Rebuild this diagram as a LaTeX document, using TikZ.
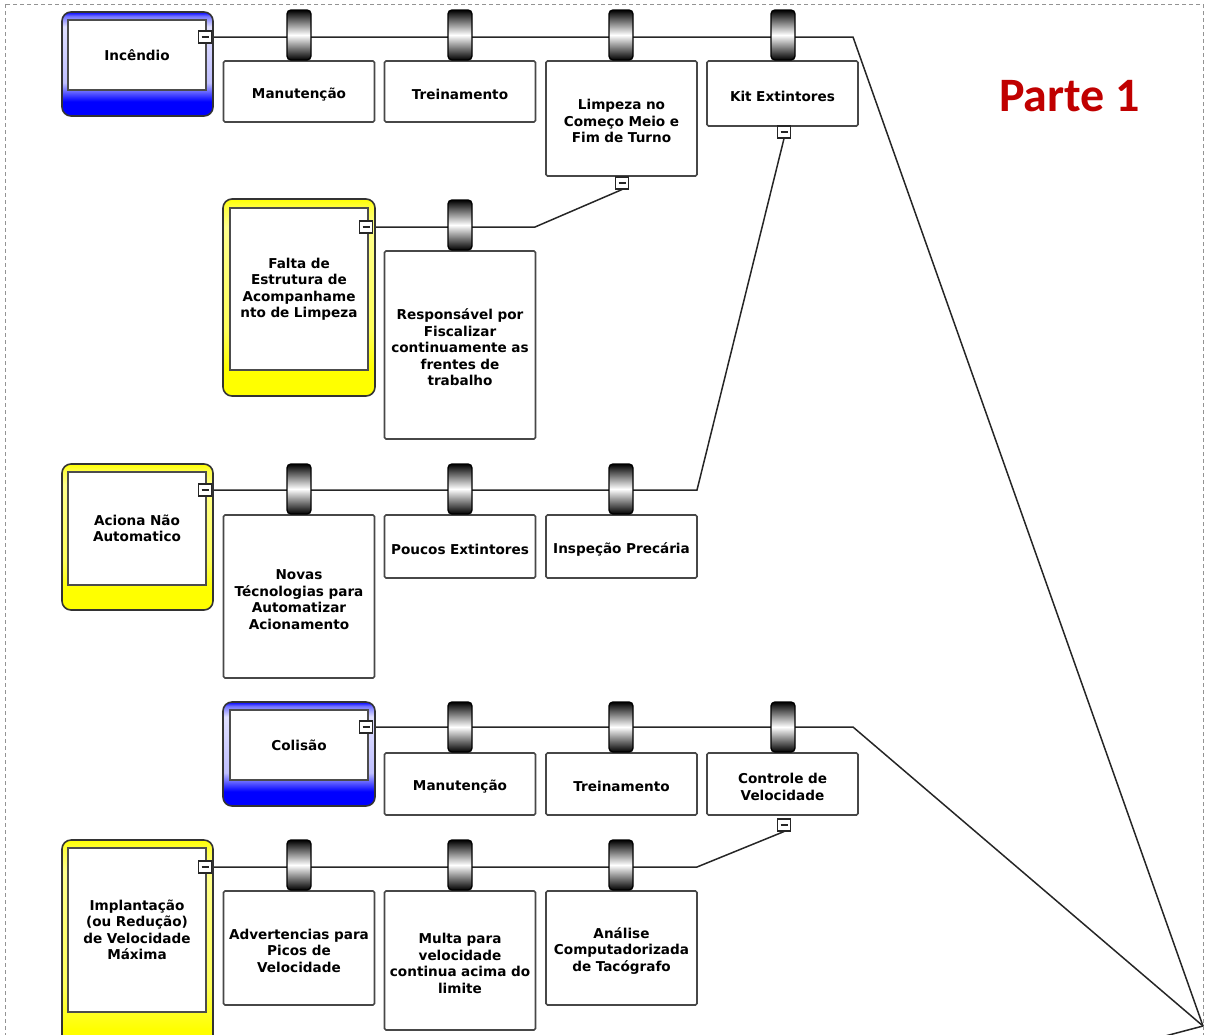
\documentclass[tikz,border=0pt]{standalone}
\usepackage{fontspec}
\setmainfont{DejaVu Sans}
\newfontfamily\titlefont{Carlito}
\definecolor{tblue}{RGB}{0,0,255}
\definecolor{tyellow}{RGB}{255,255,0}
\definecolor{partred}{RGB}{192,0,0}
\pgfdeclarelayer{background}
\pgfsetlayers{background,main}
% frame shadings of the threat boxes (bottom = 0bp, path spans 25bp..75bp)
\pgfdeclareverticalshading{blueframe}{100bp}{color(0bp)=(tblue); color(25bp)=(tblue); color(32bp)=(tblue); color(41bp)=(tblue!25!white); color(68bp)=(tblue!12!white); color(73bp)=(tblue!55!white); color(75bp)=(tblue); color(100bp)=(tblue)}
\pgfdeclareverticalshading{yellowframe}{100bp}{color(0bp)=(tyellow); color(25bp)=(tyellow); color(32bp)=(tyellow); color(42bp)=(tyellow!65!white); color(68bp)=(tyellow!45!white); color(73bp)=(tyellow!75!white); color(75bp)=(tyellow); color(100bp)=(tyellow)}
\begin{document}
\begin{tikzpicture}[x=1pt,y=-1pt,
  boxfont/.style={font=\bfseries\fontsize{13.6}{16.5}\selectfont},
  frame/.style={rounded corners=9pt, draw=black!80, line width=1.6pt, inner sep=0pt},
  blueframe/.style={frame, shading=blueframe},
  yellowframe/.style={frame, shading=yellowframe},
  threattext/.style={boxfont, draw=gray!60!black, line width=1.1pt, fill=white,
    minimum width=138pt, text width=138pt, align=center, inner sep=0pt},
  ctrl/.style={boxfont, draw=black!72, line width=1.7pt, rounded corners=1.5pt, fill=white,
    minimum width=151pt, text width=151pt, align=center, inner sep=0pt,
    execute at begin node={\rule{0pt}{16pt}}},
  barrier/.style={draw=black, line width=1.4pt, rounded corners=4pt, minimum width=24pt,
    minimum height=50pt, inner sep=0pt, top color=black, bottom color=black, middle color=white},
  collapse/.style={draw=black!85, line width=1.1pt, fill=white, minimum width=13pt,
    minimum height=12pt, inner sep=0pt,
    path picture={\draw[line width=1.3pt]
      ([xshift=-3.5pt]path picture bounding box.center) -- ([xshift=3.5pt]path picture bounding box.center);}},
  link/.style={line width=1.5pt, black!85}
]
\useasboundingbox (0,0) rectangle (1206,1034);

% dashed page border
\draw[gray!85, line width=1pt, dash pattern=on 4pt off 3pt] (5,4) rectangle (1203,1045);

% title
\node[anchor=base west, inner sep=0pt, text=partred, font=\titlefont\bfseries\fontsize{48}{50}\selectfont] (title) at (999,111) {Parte 1};

% ---------- Incêndio ----------
\node[blueframe, minimum width=151pt, minimum height=104pt] (fire) at (137.5,64) {};
\node[threattext, minimum height=70pt] (fireT) at (137,55) {Incêndio};
\node[ctrl, minimum height=61pt] (c11) at (299,91.5) {Manutenção};
\node[ctrl, minimum height=61pt] (c12) at (460,91.5) {Treinamento};
\node[ctrl, minimum height=115pt] (c13) at (621.5,118.5) {Limpeza no\\Começo Meio e\\Fim de Turno};
\node[ctrl, minimum height=65pt] (c14) at (782.5,93.5) {Kit Extintores};
\node[barrier] (b11) at (299,35) {};
\node[barrier] (b12) at (460,35) {};
\node[barrier] (b13) at (621,35) {};
\node[barrier] (b14) at (783,35) {};
\node[collapse] (fireMinus) at (205,37) {};
\node[collapse] (limpMinus) at (622,183) {};
\node[collapse] (kitMinus) at (784,132) {};

% ---------- Falta de Estrutura ----------
\node[yellowframe, minimum width=152pt, minimum height=197pt] (falta) at (299,297.5) {};
\node[threattext, minimum height=162pt] (faltaT) at (299,289) {Falta de\\Estrutura de\\Acompanhame\\nto de Limpeza};
\node[ctrl, minimum height=188pt] (c21) at (460,345) {Responsável por\\Fiscalizar\\continuamente as\\frentes de\\trabalho};
\node[barrier] (b21) at (460,225) {};
\node[collapse] (faltaMinus) at (366,227) {};

% ---------- Aciona Não Automatico ----------
\node[yellowframe, minimum width=151pt, minimum height=146pt] (aciona) at (137.5,537) {};
\node[threattext, minimum height=113pt] (acionaT) at (137,528.5) {Aciona Não\\Automatico};
\node[ctrl, minimum height=163pt] (c31) at (299,596.5) {Novas\\Técnologias para\\Automatizar\\Acionamento};
\node[ctrl, minimum height=63pt] (c32) at (460,546.5) {Poucos Extintores};
\node[ctrl, minimum height=63pt] (c33) at (621.5,546.5) {Inspeção Precária};
\node[barrier] (b31) at (299,489) {};
\node[barrier] (b32) at (460,489) {};
\node[barrier] (b33) at (621,489) {};
\node[collapse] (acionaMinus) at (205,490) {};

% ---------- Colisão ----------
\node[blueframe, minimum width=152pt, minimum height=104pt] (colisao) at (299,754) {};
\node[threattext, minimum height=70pt] (colisaoT) at (299,745) {Colisão};
\node[ctrl, minimum height=62pt] (c41) at (460,784) {Manutenção};
\node[ctrl, minimum height=62pt] (c42) at (621.5,784) {Treinamento};
\node[ctrl, minimum height=62pt] (c43) at (782.5,784) {Controle de\\Velocidade};
\node[barrier] (b41) at (460,727) {};
\node[barrier] (b42) at (621,727) {};
\node[barrier] (b43) at (783,727) {};
\node[collapse] (colisaoMinus) at (366,727) {};
\node[collapse] (velMinus) at (784,825) {};

% ---------- Implantação de Velocidade Máxima ----------
\node[yellowframe, minimum width=151pt, minimum height=220pt] (impl) at (137.5,950) {};
\node[threattext, minimum height=164pt] (implT) at (137,930) {Implantação\\(ou Redução)\\de Velocidade\\Máxima};
\node[ctrl, minimum height=114pt] (c51) at (299,948) {Advertencias para\\Picos de\\Velocidade};
\node[ctrl, minimum height=139pt] (c52) at (460,960.5) {Multa para\\velocidade\\continua acima do\\limite};
\node[ctrl, minimum height=114pt] (c53) at (621.5,948) {Análise\\Computadorizada\\de Tacógrafo};
\node[barrier] (b51) at (299,865) {};
\node[barrier] (b52) at (460,865) {};
\node[barrier] (b53) at (621,865) {};
\node[collapse] (implMinus) at (205,867) {};

% ---------- connectors ----------
\coordinate (sink) at (1203,1026);
\coordinate (fireEnd) at (853,37);
\coordinate (faltaEnd) at (535,227);
\coordinate (acionaEnd) at (697,490);
\coordinate (colisaoEnd) at (853,727);
\coordinate (implEnd) at (697,867);
\coordinate (offpage) at (1150,1040);
\begin{pgfonlayer}{background}
  \draw[link] (fireMinus.east) -- (fireEnd) -- (sink);
  \draw[link] (faltaMinus.east) -- (faltaEnd) -- (limpMinus.south);
  \draw[link] (acionaMinus.east) -- (acionaEnd) -- (kitMinus.south);
  \draw[link] (colisaoMinus.east) -- (colisaoEnd) -- (sink);
  \draw[link] (implMinus.east) -- (implEnd) -- (velMinus.south);
  \draw[link] (offpage) -- (sink);
\end{pgfonlayer}
\end{tikzpicture}
\end{document}
